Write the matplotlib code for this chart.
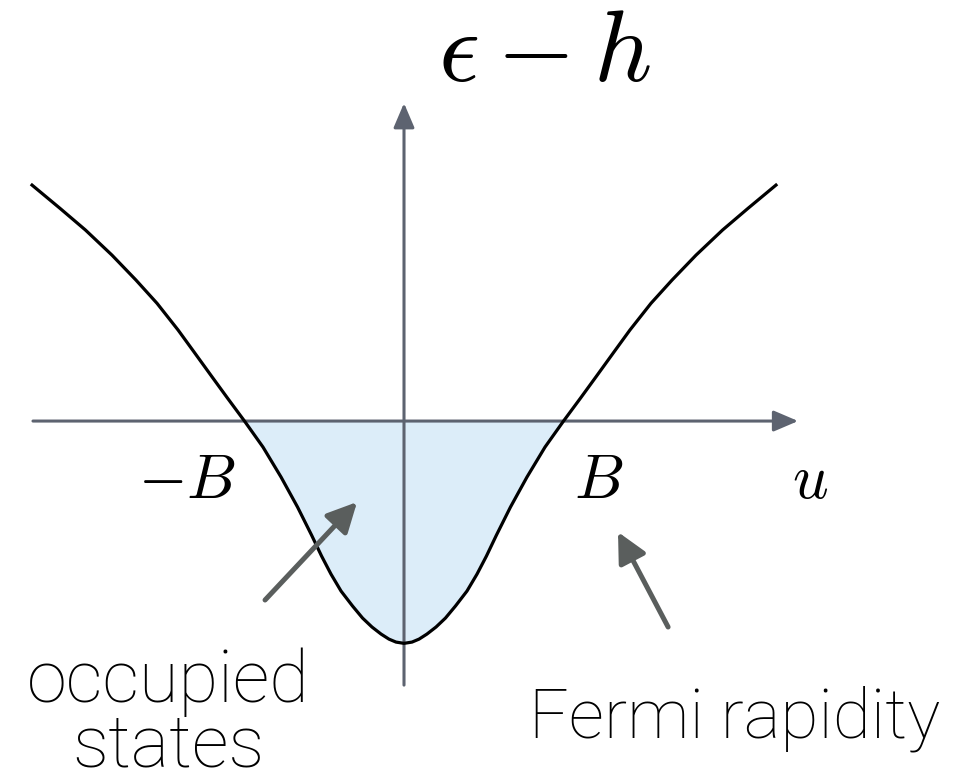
import matplotlib.pyplot as plt
import numpy as np

plt.rcParams['mathtext.fontset'] = 'cm'

# dispersion epsilon(u) - h, in units where the Fermi rapidity B = 1
u_vals = [-2.369, -2.191, -2.029, -1.860, -1.707, -1.573, -1.439, -1.338, -1.223,
          -1.124, -1.016, -0.898, -0.783, -0.678, -0.589, -0.525, -0.465, -0.401,
          -0.328, -0.264, -0.204, -0.146, -0.096, -0.051,
          0.0,
          0.051, 0.096, 0.146, 0.204, 0.264, 0.328, 0.401, 0.465, 0.525, 0.589,
          0.678, 0.783, 0.898, 1.016, 1.124, 1.223, 1.338, 1.439, 1.573, 1.707,
          1.860, 2.029, 2.191, 2.369]
e_vals = [1.503, 1.355, 1.217, 1.057, 0.898, 0.750, 0.580, 0.441, 0.282,
          0.146, 0.0, -0.166, -0.357, -0.548, -0.726, -0.860, -0.975, -1.083,
          -1.178, -1.255, -1.312, -1.357, -1.389, -1.408,
          -1.416,
          -1.408, -1.389, -1.357, -1.312, -1.255, -1.178, -1.083, -0.975, -0.860, -0.726,
          -0.548, -0.357, -0.166, 0.0, 0.146, 0.282, 0.441, 0.580, 0.750, 0.898,
          1.057, 1.217, 1.355, 1.503]

u = np.array(u_vals)
e = np.array(e_vals)

axis_col = '#5d6370'
arrow_col = '#5a5e5d'

fig = plt.figure(figsize=(9.6, 7.76), dpi=100)
ax = fig.add_axes([0, 0, 1, 1])
ax.set_xlim(-2.573, 3.541)
ax.set_ylim(-2.261, 2.682)
ax.axis('off')

# occupied states below zero
ax.fill_between(u, e, 0, where=e <= 0, interpolate=True, color='#dcedf9', lw=0, zorder=1)

# coordinate axes
axis_arrow = dict(arrowstyle='-|>,head_length=0.75,head_width=0.32',
                  mutation_scale=20, lw=2.2, color=axis_col, shrinkA=0, shrinkB=0)
ax.annotate('', xy=(2.51, 0), xytext=(-2.363, 0), arrowprops=axis_arrow, zorder=2)
ax.annotate('', xy=(0, 2.025), xytext=(0, -1.682), arrowprops=axis_arrow, zorder=2)

ax.plot(u, e, color='black', lw=2.3, solid_joinstyle='round', zorder=3)

# pointers
pointer = dict(arrowstyle='-|>,head_length=0.9,head_width=0.45',
               mutation_scale=20, lw=3.6, color=arrow_col, shrinkA=0, shrinkB=0)
ax.annotate('', xy=(-0.299, -0.516), xytext=(-0.885, -1.140), arrowprops=pointer, zorder=4)
ax.annotate('', xy=(1.363, -0.707), xytext=(1.682, -1.312), arrowprops=pointer, zorder=4)

# labels
ax.text(0.898, 2.166, r'$\epsilon - h$', fontsize=73, ha='center', va='baseline')
ax.text(-1.382, -0.490, r'$-B$', fontsize=45, ha='center', va='baseline')
ax.text(1.242, -0.490, r'$B$', fontsize=45, ha='center', va='baseline')
ax.text(2.586, -0.490, r'$u$', fontsize=45, ha='center', va='baseline')

sans = ['Roboto', 'Liberation Sans', 'DejaVu Sans']
ax.text(-1.500, -1.790, 'occupied', fontsize=52, family=sans, fontweight='light',
        ha='center', va='baseline')
ax.text(-1.500, -2.200, 'states', fontsize=52, family=sans, fontweight='light',
        ha='center', va='baseline')
ax.text(2.108, -2.013, 'Fermi rapidity', fontsize=50, family=sans, fontweight='light',
        ha='center', va='baseline')

fig.savefig('out.png', dpi=100)
